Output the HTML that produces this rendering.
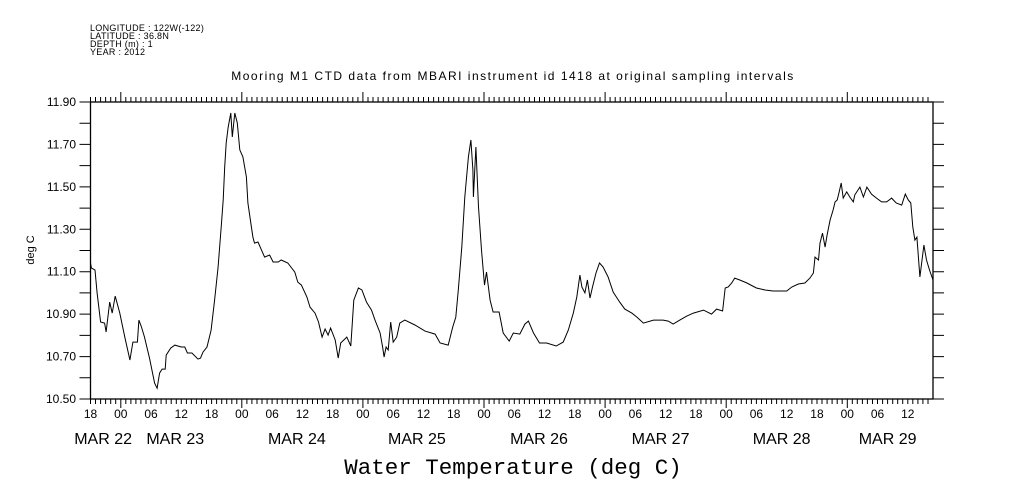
<!DOCTYPE html>
<html><head><meta charset="utf-8"><style>
html,body{margin:0;padding:0;background:#fff;}
svg{display:block;}
text{font-family:"Liberation Sans",sans-serif;fill:#000;}
</style></head><body>
<svg id="chart" width="1009" height="504" viewBox="0 0 1009 504" xmlns="http://www.w3.org/2000/svg">
<g font-size="9" letter-spacing="0.3">
<text x="90" y="31">LONGITUDE : 122W(-122)</text>
<text x="90" y="39">LATITUDE : 36.8N</text>
<text x="90" y="47">DEPTH (m) : 1</text>
<text x="90" y="55">YEAR : 2012</text>
</g>
<text x="513" y="80" text-anchor="middle" font-size="12" letter-spacing="1.5">Mooring M1 CTD data from MBARI instrument id 1418 at original sampling intervals</text>
<text transform="translate(34,250) rotate(-90)" text-anchor="middle" font-size="11">deg C</text>
<text x="513" y="474" text-anchor="middle" font-size="22.5" style="font-family:'Liberation Mono',monospace">Water Temperature (deg C)</text>
<g id="axes"></g>
<g id="series"></g>
</svg>
<script>
const hours=[0,0.2,0.9,1.3,2.0,2.8,3.1,3.8,4.3,4.9,5.8,6.8,7.8,8.4,9.3,9.6,10.1,10.7,11.7,12.7,13.2,13.7,14.2,14.8,15.0,15.9,16.7,18.0,18.7,19.2,20.1,21.3,21.8,22.3,23.1,23.9,24.6,25.3,25.9,26.3,26.6,26.9,27.3,27.8,28.1,28.6,29.1,29.6,30.2,30.9,31.2,31.9,32.2,32.5,33.2,33.9,34.5,35.5,36.2,37.2,37.8,39.1,40.5,41.1,41.8,42.9,43.5,44.5,45.2,45.9,46.5,47.1,47.6,48.5,49.1,49.6,50.8,51.6,52.2,53.1,53.8,54.7,55.7,56.4,57.4,57.9,58.2,58.6,59.0,59.5,60.0,60.7,61.3,62.3,64.3,66.3,68.3,69.3,70.9,71.8,72.4,72.9,73.6,74.2,74.9,75.4,75.8,75.9,76.4,76.9,77.5,78.1,78.5,79.2,79.8,81.0,81.8,83.0,83.8,85.1,86.1,86.8,87.8,89.0,90.4,92.3,93.7,94.7,95.7,96.4,97.0,97.4,98.0,98.5,99.0,99.5,100.2,100.9,101.6,102.6,103.6,104.9,105.9,107.3,108.3,109.6,111.6,113.5,114.5,115.5,116.8,118.2,119.5,121.5,123.1,124.1,125.3,125.8,126.4,127.1,127.7,128.7,130.1,132.0,133.7,135.3,138.0,139.0,140.3,141.6,142.6,143.3,143.6,144.3,144.6,145.1,145.6,146.0,146.6,147.2,147.6,148.0,148.4,148.8,149.2,149.9,150.5,151.2,151.5,152.5,153.2,153.9,154.8,155.8,156.8,157.8,158.8,159.7,160.8,161.5,162.1,162.6,163.0,163.4,163.8,164.4,165.2,165.7,166.3,167.0];
const temps=[11.14,11.117,11.108,11.00,10.863,10.858,10.816,10.957,10.905,10.985,10.905,10.792,10.684,10.768,10.768,10.872,10.839,10.792,10.693,10.575,10.551,10.622,10.641,10.641,10.707,10.740,10.754,10.745,10.745,10.717,10.717,10.688,10.693,10.721,10.745,10.825,10.966,11.122,11.311,11.438,11.594,11.707,11.782,11.848,11.735,11.848,11.801,11.674,11.641,11.546,11.424,11.311,11.263,11.235,11.240,11.202,11.169,11.179,11.146,11.146,11.155,11.141,11.098,11.051,11.037,10.981,10.933,10.905,10.863,10.792,10.830,10.801,10.834,10.778,10.693,10.764,10.792,10.750,10.966,11.023,11.014,10.957,10.919,10.872,10.811,10.745,10.698,10.745,10.731,10.863,10.768,10.792,10.858,10.872,10.849,10.820,10.806,10.764,10.754,10.839,10.886,11.014,11.216,11.452,11.641,11.721,11.579,11.452,11.688,11.405,11.202,11.037,11.098,10.966,10.910,10.910,10.811,10.773,10.811,10.806,10.853,10.867,10.811,10.764,10.764,10.750,10.768,10.825,10.905,10.981,11.084,11.028,11.000,11.061,10.976,11.028,11.094,11.141,11.122,11.075,11.004,10.957,10.924,10.905,10.886,10.858,10.872,10.872,10.867,10.853,10.872,10.891,10.905,10.919,10.900,10.924,10.915,11.023,11.028,11.047,11.070,11.061,11.047,11.023,11.014,11.009,11.009,11.028,11.042,11.047,11.070,11.094,11.169,11.155,11.235,11.282,11.216,11.273,11.344,11.391,11.429,11.438,11.476,11.518,11.447,11.476,11.452,11.429,11.462,11.499,11.452,11.499,11.466,11.447,11.429,11.429,11.447,11.424,11.414,11.466,11.438,11.424,11.311,11.249,11.263,11.075,11.226,11.155,11.108,11.061];
const yTickValues=[10.5,10.6,10.7,10.8,10.9,11.0,11.1,11.2,11.3,11.4,11.5,11.6,11.7,11.8,11.9];
const yTickLabels=["10.50","10.70","10.90","11.10","11.30","11.50","11.70","11.90"];
const hourLabels=["18","00","06","12","18","00","06","12","18","00","06","12","18","00","06","12","18","00","06","12","18","00","06","12","18","00","06","12"];
const dateLabels=["MAR 22","MAR 23","MAR 24","MAR 25","MAR 26","MAR 27","MAR 28","MAR 29"];
const dateLabelHours=[2.5,16.8,40.9,64.7,88.9,113,137,158];

const L=90.5,R=933,T=102,B=399,YMIN=10.5,YMAX=11.9,HPX=5.045;
const xs=h=>L+h*HPX;
const ys=v=>B-(v-YMIN)/(YMAX-YMIN)*(B-T);
const NS="http://www.w3.org/2000/svg";
const axes=document.getElementById('axes'),series=document.getElementById('series');
function mk(tag,attrs,parent){const e=document.createElementNS(NS,tag);for(const k in attrs)e.setAttribute(k,attrs[k]);parent.appendChild(e);return e;}
const frame=mk('rect',{x:L,y:T,width:R-L,height:B-T,fill:'none',stroke:'#000','stroke-width':1.3},axes);


let d='';
yTickValues.forEach(v=>{const y=ys(v).toFixed(1);d+=`M${L-11},${y}H${L}M${R},${y}H${R+11}`;});
const nh=Math.floor((R-L)/HPX);
for(let h=0;h<=nh;h++){const x=xs(h).toFixed(1);const day=(h+18)%24===0;d+=`M${x},${T}V${T-(day?10:5)}M${x},${B}V${B+(day?9:5)}`;}
const tk=mk('path',{d:d,stroke:'#000','stroke-width':1,fill:'none'},axes);


yTickLabels.forEach(s=>{const t=mk('text',{x:76,y:ys(parseFloat(s))+4,'text-anchor':'end','font-size':12},axes);t.textContent=s;

});
hourLabels.forEach((s,i)=>{const t=mk('text',{x:xs(i*6),y:418,'text-anchor':'middle','font-size':12},axes);t.textContent=s;

});
dateLabels.forEach((s,i)=>{const t=mk('text',{x:xs(dateLabelHours[i]),y:444,'text-anchor':'middle','font-size':16},axes);t.textContent=s;

});
const pts=hours.map((h,i)=>xs(h).toFixed(1)+','+ys(temps[i]).toFixed(1)).join(' ');
const line=mk('polyline',{points:pts,fill:'none',stroke:'#000','stroke-width':1},series);


</script>
</body></html>
